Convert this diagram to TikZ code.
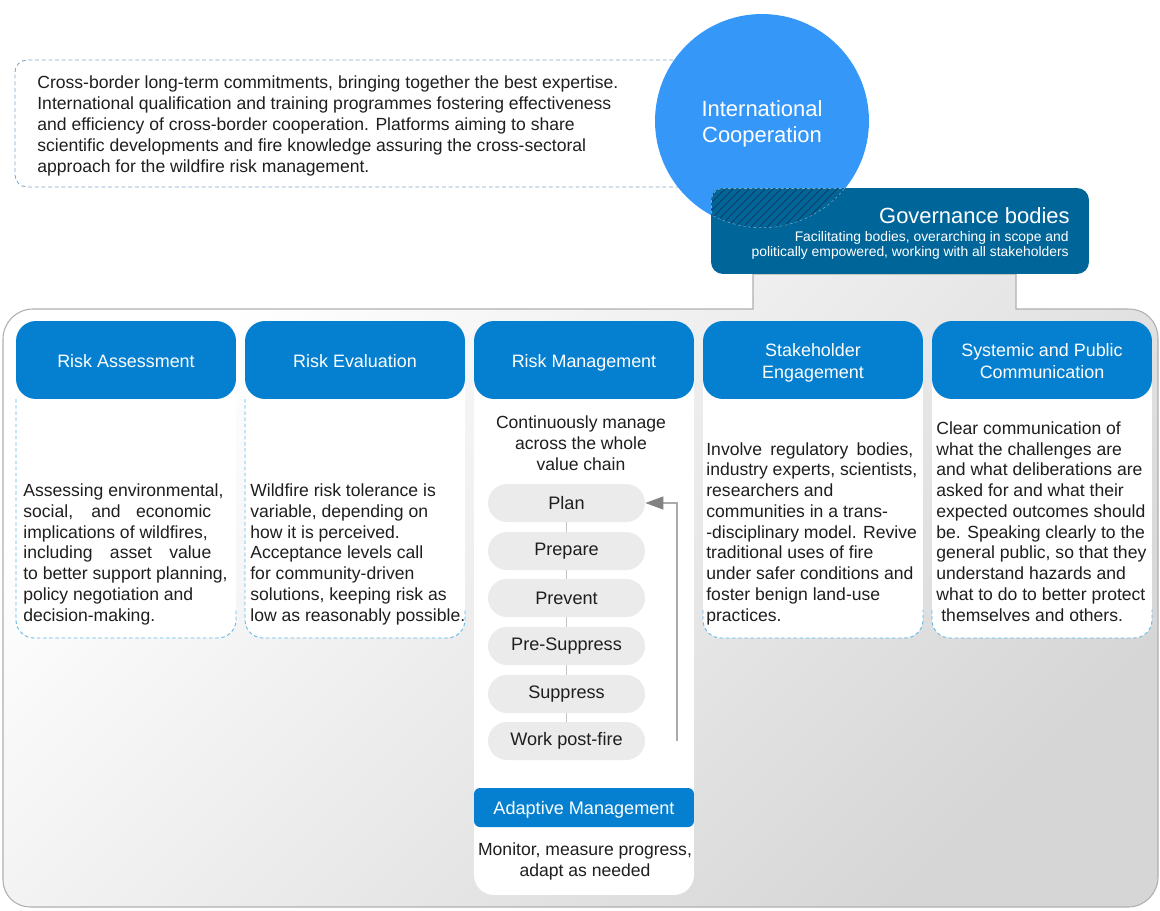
\documentclass[tikz,border=0pt]{standalone}
\usepackage{fontspec}
\setmainfont{Liberation Sans}
\usetikzlibrary{arrows.meta}
\definecolor{circblue}{RGB}{53,152,249}
\definecolor{govblue}{RGB}{0,102,154}
\definecolor{hdrblue}{RGB}{5,128,208}
\definecolor{dashblue}{RGB}{95,185,235}
\definecolor{topdash}{RGB}{130,165,195}
\definecolor{pillgray}{RGB}{235,235,235}
\definecolor{txt}{RGB}{30,30,30}
\definecolor{linegray}{RGB}{170,170,170}
\definecolor{arrgray}{RGB}{130,130,130}
\definecolor{framegray}{RGB}{175,175,175}
\definecolor{shadeA}{RGB}{246,246,246}
\definecolor{shadeB}{RGB}{214,214,214}
\definecolor{hatchcol}{RGB}{20,55,85}
\definecolor{arcdash}{RGB}{120,170,205}
\begin{document}
\begin{tikzpicture}[x=0.02cm,y=-0.02cm,
  bodytext/.style={font=\fontsize{10}{11.8}\selectfont, text=txt, align=left, inner sep=0pt, anchor=base west},
  hdr/.style={fill=hdrblue, rounded corners=0.4cm, minimum width=4.4cm, minimum height=1.56cm, inner sep=0pt},
  hdrtext/.style={text=white, font=\fontsize{10.2}{12.5}\selectfont, align=center, inner sep=0pt, anchor=base},
  colbody/.style={fill=white, rounded corners=0.36cm, inner sep=0pt, minimum width=4.4cm},
  pill/.style={fill=pillgray, rounded corners=0.38cm, minimum width=3.14cm, minimum height=0.76cm, inner sep=0pt, font=\fontsize{10.3}{12}\selectfont, text=txt},
  coldash/.style={draw=dashblue, dash pattern=on 2pt off 1.5pt, line width=0.5pt},
  pilllink/.style={draw=linegray!70, line width=0.5pt},
  fbline/.style={draw=linegray, line width=0.7pt, -{Triangle[length=0.36cm,width=0.26cm,color=arrgray,fill=arrgray]}}
]
\useasboundingbox (0,0) rectangle (1160,910);

% container with gradient
\path[draw=framegray, line width=0.6pt, top color=white, middle color=shadeA, bottom color=shadeB, shading angle=45]
  (753,274) -- (1016,274) -- (1016,309) -- (1128,309)
  .. controls (1145.7,309) and (1158,321.3) .. (1158,339) -- (1158,877)
  .. controls (1158,893.6) and (1144.6,907) .. (1128,907) -- (30,907)
  .. controls (15.1,907) and (3,894.9) .. (3,880) -- (3,339)
  .. controls (3,322.4) and (16.4,309) .. (33,309) -- (753,309) -- cycle;

% top-left dashed text box
\draw[topdash, dash pattern=on 2.2pt off 1.6pt, line width=0.5pt]
  (700,60) -- (27,60) .. controls (20.4,60) and (15,65.4) .. (15,72) -- (15,175)
  .. controls (15,181.6) and (20.4,187) .. (27,187) -- (700,187);
\node[bodytext, font=\fontsize{10}{11.9}\selectfont] (coop) at (37,172)
 {Cross-border long-term commitments, bringing together the best expertise.\\
  International qualification and training programmes fostering effectiveness\\
  and efficiency of cross-border cooperation. Platforms aiming to share\\
  scientific developments and fire knowledge assuring the cross-sectoral\\
  approach for the wildfire risk management.};

% circle
\node[circle, fill=circblue, minimum size=4.28cm, inner sep=0pt] (ic) at (762,121) {};
\node[text=white, align=center, inner sep=0pt, anchor=base,
  font=\fontsize{12.5}{14.7}\selectfont] (ictext) at (762,142) {International\\Cooperation};

% governance box
\node[fill=govblue, rounded corners=0.24cm, minimum width=7.56cm, minimum height=1.72cm, inner sep=0pt] (gov) at (900,231) {};
\begin{scope}
  \clip (762,121) circle (2.14cm);
  \clip[rounded corners=0.24cm] (711,188) rectangle (1089,274);
  \foreach \i in {0,...,32} \draw[hatchcol, line width=0.4pt] ({600+\i*8},290) -- ({710+\i*8},180);
  \draw[arcdash, dash pattern=on 1.6pt off 1.4pt, line width=0.6pt] (762,121) circle (2.14cm);
  \draw[arcdash, dash pattern=on 1.6pt off 1.4pt, line width=0.9pt, rounded corners=0.24cm] (711,188) rectangle (1089,274);
\end{scope}
\node[anchor=base east, inner sep=0pt, text=white, font=\fontsize{12.5}{14}\selectfont] (govtitle) at (1070,223) {Governance bodies};
\node[anchor=base east, inner sep=0pt, text=white, align=right, font=\fontsize{7.9}{8.5}\selectfont] (govsub) at (1069,256)
 {Facilitating bodies, overarching in scope and\\politically empowered, working with all stakeholders};

% column bodies
\node[colbody, minimum height=6.16cm] (b1) at (126,484) {};
\node[colbody, minimum height=6.16cm] (b2) at (355,484) {};
\node[colbody, rounded corners=0.4cm, minimum height=11.3cm] (b3) at (584,612.5) {};
\node[colbody, minimum height=6.16cm] (b4) at (813,484) {};
\node[colbody, minimum height=6.16cm] (b5) at (1042,484) {};

% dashed borders
\foreach \c in {126,355} {
  \draw[coldash] ({\c-110},399) -- ({\c-110},620) .. controls ({\c-110},629.9) and ({\c-101.9},638) .. ({\c-92},638)
    -- ({\c+92},638) .. controls ({\c+101.9},638) and ({\c+110},629.9) .. ({\c+110},620) -- ({\c+110},610);
}
\foreach \c in {813,1042} {
  \draw[coldash] ({\c-110},610) -- ({\c-110},620) .. controls ({\c-110},629.9) and ({\c-101.9},638) .. ({\c-92},638)
    -- ({\c+92},638) .. controls ({\c+101.9},638) and ({\c+110},629.9) .. ({\c+110},620) -- ({\c+110},610);
}

% headers
\node[hdr] (h1) at (126,360) {};
\node[hdr] (h2) at (355,360) {};
\node[hdr] (h3) at (584,360) {};
\node[hdr] (h4) at (813,360) {};
\node[hdr] (h5) at (1042,360) {};
\node[hdrtext] (h1t) at (126,367) {Risk Assessment};
\node[hdrtext] (h2t) at (355,367) {Risk Evaluation};
\node[hdrtext] (h3t) at (584,367) {Risk Management};
\node[hdrtext] (h4t) at (813,378) {Stakeholder\\Engagement};
\node[hdrtext] (h5t) at (1042,378) {Systemic and Public\\Communication};

% column texts (anchored at last baseline)
\node[bodytext] (t1) at (23,621)
 {Assessing environmental,\\
  \makebox[3.76cm][s]{social, and economic}\\
  implications of wildfires,\\
  \makebox[3.76cm][s]{including asset value}\\
  to better support planning,\\
  policy negotiation and\\
  decision-making.};
\node[bodytext] (t2) at (250,621)
 {Wildfire risk tolerance is\\
  variable, depending on\\
  how it is perceived.\\
  Acceptance levels call\\
  for community-driven\\
  solutions, keeping risk as\\
  low as reasonably possible.};
\node[bodytext] (t4) at (706,621)
 {\makebox[4.14cm][s]{Involve regulatory bodies,}\\
  industry experts, scientists,\\
  researchers and\\
  communities in a trans-\\
  -disciplinary model. Revive\\
  traditional uses of fire\\
  under safer conditions and\\
  foster benign land-use\\
  practices.};
\node[bodytext] (t5) at (936,621)
 {Clear communication of\\
  what the challenges are\\
  and what deliberations are\\
  asked for and what their\\
  expected outcomes should\\
  be. Speaking clearly to the\\
  general public, so that they\\
  understand hazards and\\
  what to do to better protect\\
  \hspace*{0.1cm}themselves and others.};

% risk management column
\node[bodytext, anchor=base, align=center] (cont) at (581,470)
 {Continuously manage\\across the whole\\value chain};
\node[pill] (p1) at (566.5,503) {Plan};
\node[pill] (p2) at (566.5,551) {Prepare};
\node[pill] (p3) at (566.5,598) {Prevent};
\node[pill] (p4) at (566.5,646) {Pre-Suppress};
\node[pill] (p5) at (566.5,694) {Suppress};
\node[pill] (p6) at (566.5,741) {Work post-fire};
\draw[pilllink] (p1.south) -- (p2.north);
\draw[pilllink] (p2.south) -- (p3.north);
\draw[pilllink] (p3.south) -- (p4.north);
\draw[pilllink] (p4.south) -- (p5.north);
\draw[pilllink] (p5.south) -- (p6.north);
\coordinate (fb) at (677,741);
\draw[fbline] (fb) |- (p1.east);

\node[fill=hdrblue, rounded corners=0.12cm, minimum width=4.4cm, minimum height=0.78cm, inner sep=0pt] (am) at (584,807.5) {};
\node[text=white, inner sep=0pt, anchor=base, font=\fontsize{10.3}{12}\selectfont] (amt) at (584,814) {Adaptive Management};
\node[bodytext, anchor=base, align=center] (mon) at (585,876)
 {Monitor, measure progress,\\adapt as needed};
\end{tikzpicture}
\end{document}
